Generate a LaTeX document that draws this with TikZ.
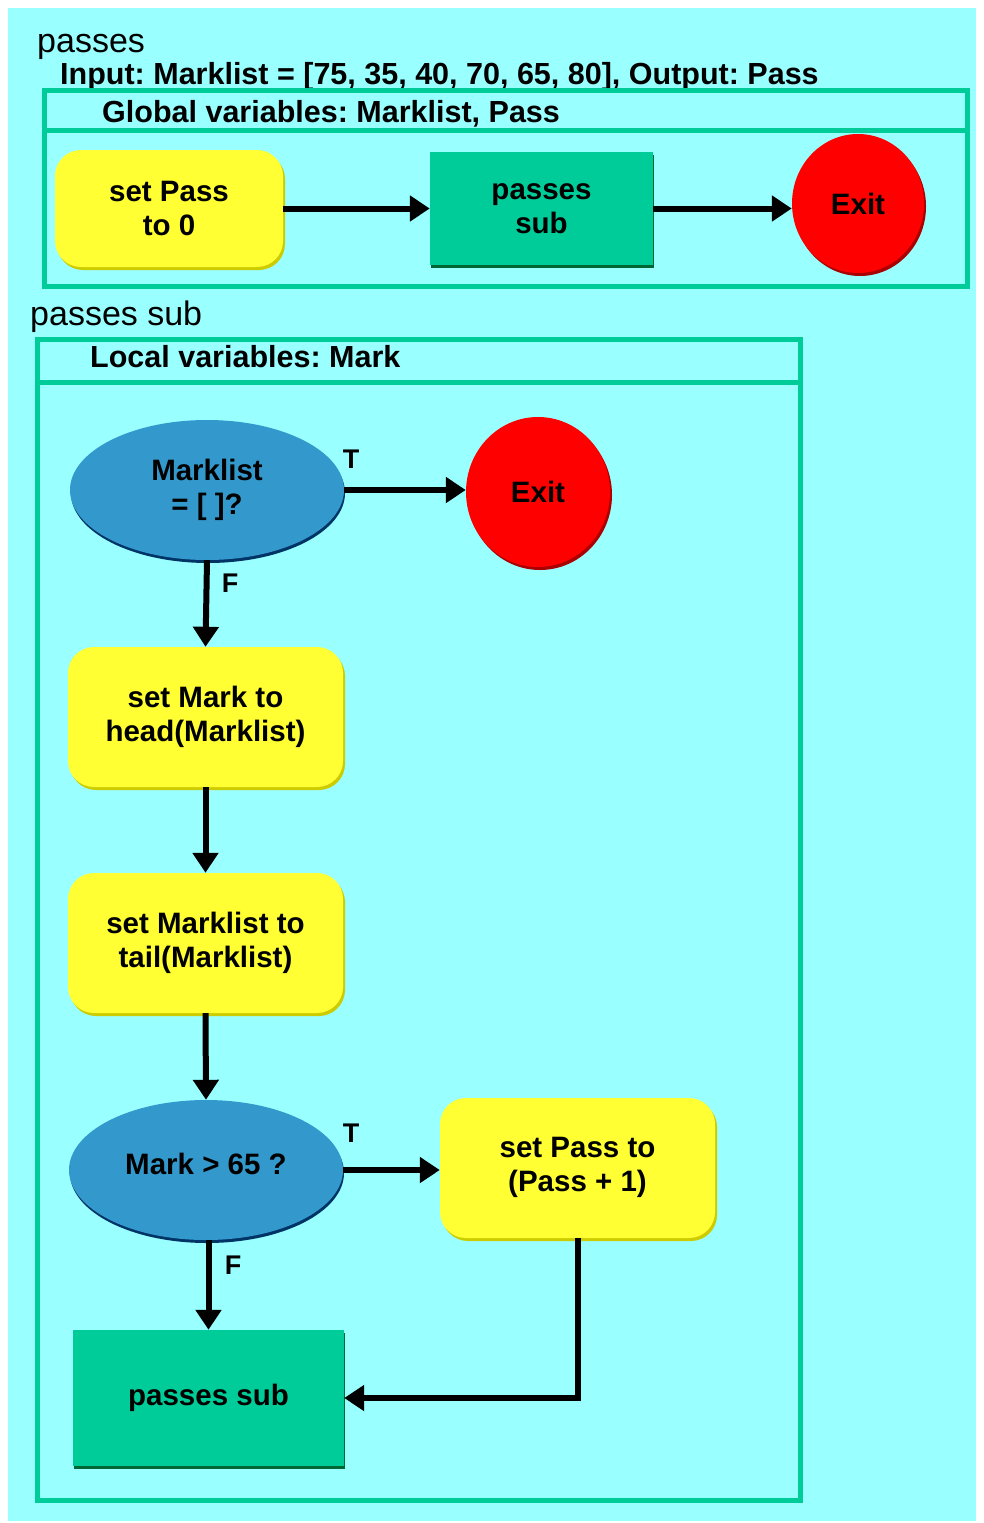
\documentclass[tikz,border=0pt]{standalone}
\usepackage{fontspec}
\setmainfont{Liberation Sans}
\usetikzlibrary{shapes.geometric,arrows.meta,shadows}
\definecolor{bg}{RGB}{153,255,255}
\definecolor{grn}{RGB}{0,204,153}
\definecolor{grnd}{RGB}{0,102,51}
\definecolor{yel}{RGB}{255,255,51}
\definecolor{yeld}{RGB}{204,204,0}
\definecolor{rd}{RGB}{255,0,0}
\definecolor{rdd}{RGB}{170,0,0}
\definecolor{blu}{RGB}{51,153,204}
\definecolor{blud}{RGB}{0,51,102}
\frenchspacing
\begin{document}
\begin{tikzpicture}[x=1pt,y=-1pt,
  txt/.style={font=\fontsize{29.5}{34}\selectfont\bfseries, align=center, text=black, inner sep=0pt},
  proc/.style={txt, rectangle, rounded corners=26pt, fill=yel, minimum width=275pt, minimum height=140pt,
    drop shadow={shadow xshift=2pt, shadow yshift=-3pt, fill=yeld, opacity=1}},
  subbox/.style={txt, rectangle, fill=grn,
    drop shadow={shadow xshift=1pt, shadow yshift=-3pt, fill=grnd, opacity=1}},
  exitn/.style={txt, ellipse, fill=rd,
    drop shadow={shadow xshift=2pt, shadow yshift=-3pt, fill=rdd, opacity=1}},
  dec/.style={txt, ellipse, fill=blu, minimum width=274pt, minimum height=140pt,
    drop shadow={shadow xshift=1pt, shadow yshift=-3pt, fill=blud, opacity=1}},
  frm/.style={draw=grn, line width=5pt},
  arr/.style={line width=6pt, -{Triangle[length=20pt,width=25pt]}},
  lab/.style={font=\fontsize{27}{30}\selectfont\bfseries, inner sep=0pt},
  hdr/.style={font=\fontsize{30.5}{34}\selectfont\bfseries, anchor=base west, inner sep=0pt},
  ttl/.style={font=\fontsize{34}{40}\selectfont, anchor=base west, inner sep=0pt}
]
\useasboundingbox (0,0) rectangle (984,1523);
\fill[white] (0,0) rectangle (984,1523);
\fill[bg] (8,8) rectangle (976,1521);

% top section
\node[ttl] (t1) at (37,52) {passes};
\node[hdr] (inp) at (60,84) {Input: Marklist = [75, 35, 40, 70, 65, 80], Output: Pass};
\draw[frm] (44,90) rectangle (967,286);
\draw[frm] (44,130) -- (967,130);
\node[hdr] (glob) at (102,122) {Global variables: Marklist, Pass};

\node[proc, minimum width=228pt, minimum height=117pt] (setpass) at (169,208.5) {set Pass\\to 0};
\node[subbox, minimum width=223pt, minimum height=113pt] (sub1) at (541.5,208.5) {passes\\sub};
\node[exitn, minimum width=132pt, minimum height=139pt] (exit1) at (858,203.5) {Exit};

\draw[arr] (setpass.east) -- (sub1.west);
\draw[arr] (sub1.east) -- (exit1.west |- sub1.east);

% sub section
\node[ttl] (t2) at (30,325) {passes sub};
\draw[frm] (37,339) rectangle (800,1500);
\draw[frm] (37,382) -- (800,382);
\node[hdr] (loc) at (90,367) {Local variables: Mark};

\node[dec] (d1) at (207,490) {Marklist\\= [ ]?};
\node[exitn, minimum width=144pt, minimum height=150pt] (exit2) at (538,492) {Exit};
\node[proc] (head) at (205.5,717) {set Mark to\\head(Marklist)};
\node[proc] (tail) at (205.5,943) {set Marklist to\\tail(Marklist)};
\node[dec] (d2) at (206,1170) {Mark > 65 ?\\[-22pt]};
\node[proc] (inc) at (577.5,1168) {set Pass to\\(Pass + 1)\\[-26pt]};
\node[subbox, minimum width=271pt, minimum height=136pt] (sub2) at (208.5,1398) {passes sub};

\draw[arr] (d1.east) -- (exit2.west |- d1.east);
\draw[arr] (d1.south) -- (head.north);
\draw[arr] (head.south) -- (tail.north);
\draw[arr] (tail.south) -- (d2.north);
\draw[arr] (d2.east) -- (inc.west |- d2.east);
\draw[arr] (sub2.north |- d2.south) -- (sub2.north);
\draw[arr] (inc.south) |- (sub2.east);

\node[lab] (lt1) at (351,459) {T};
\node[lab] (lf1) at (230,583) {F};
\node[lab] (lt2) at (351,1133) {T};
\node[lab] (lf2) at (233,1265) {F};
\end{tikzpicture}
\end{document}
